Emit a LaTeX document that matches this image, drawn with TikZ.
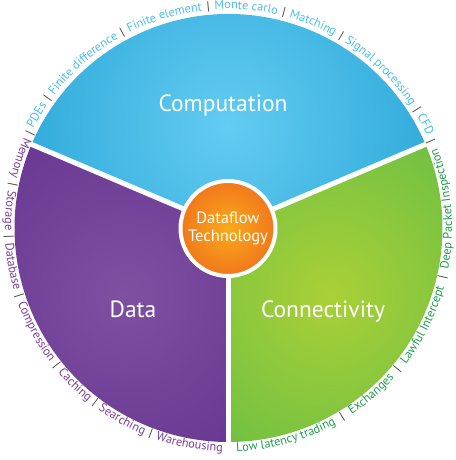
\documentclass[tikz,border=0pt]{standalone}
\usepackage{fontspec}
\setmainfont{PT Sans}
\usetikzlibrary{decorations.text}

\definecolor{compdark}{HTML}{1A9CD0}
\definecolor{complight}{HTML}{63CCF2}
\definecolor{datadark}{HTML}{5C2889}
\definecolor{datalight}{HTML}{7E50A1}
\definecolor{conndark}{HTML}{4BB649}
\definecolor{connlight}{HTML}{AAD037}
\definecolor{coredark}{HTML}{EA4A1E}
\definecolor{corelight}{HTML}{F9AA1A}
\definecolor{ringblue}{HTML}{48BEEA}
\definecolor{ringpurple}{HTML}{7A3E97}
\definecolor{ringgreen}{HTML}{1F9C4B}
\definecolor{ringsep}{HTML}{3C3C3C}

\newcommand\ringfont{\fontsize{12.3}{14}\selectfont}

\begin{document}
\begin{tikzpicture}[x=1pt, y=1pt,
    title/.style={text=white, font=\fontsize{23.5}{28}\selectfont, anchor=base, inner sep=0},
    gap/.style={white, line width=5},
    ring/.style={decorate, decoration={text along path, text align={fit to path stretching spaces}, text format delimiters={[}{]}, text={#1}}}
]
    \useasboundingbox (0,0) rectangle (455,460);
    \coordinate (c) at (228.5,232);

    % Computation sector
    \begin{scope}
        \clip (c) -- ++(23:214) arc[start angle=23, end angle=157, radius=214] -- cycle;
        \shade[inner color=complight, outer color=compdark] (228,335) circle (300);
    \end{scope}

    % Data sector
    \begin{scope}
        \clip (c) -- ++(157:214) arc[start angle=157, end angle=270, radius=214] -- cycle;
        \shade[inner color=datalight, outer color=datadark] (125,165) circle (300);
    \end{scope}

    % Connectivity sector
    \begin{scope}
        \clip (c) -- ++(-90:214) arc[start angle=-90, end angle=23, radius=214] -- cycle;
        \shade[inner color=connlight, outer color=conndark] (330,165) circle (300);
    \end{scope}

    % White gaps
    \foreach \a in {23,157,270}
        \draw[gap] (c) -- ++(\a:215);

    % Core
    \node[circle, draw=white, line width=4, minimum size=95, inner sep=0, align=center,
          text=white, font=\fontsize{16.5}{18.3}\selectfont,
          path picture={\shade[inner color=corelight, outer color=coredark]
              (path picture bounding box.center) circle (91);}]
        (core) at (228,231.5) {Dataflow\\Technology};

    % Titles
    \node[title] (comp) at (223,348) {Computation};
    \node[title] (data) at (133,142) {Data};
    \node[title] (conn) at (323,142) {Connectivity};

    % Ring of applications
    \path[ring={[\ringfont\color{ringblue}]PDEs [+\color{ringsep}]| [+\color{ringblue}]Finite{\ }difference [+\color{ringsep}]| [+\color{ringblue}]Finite{\ }element [+\color{ringsep}]| [+\color{ringblue}]Monte{\ }carlo [+\color{ringsep}]| [+\color{ringblue}]Matching [+\color{ringsep}]| [+\color{ringblue}]Signal{\ }processing [+\color{ringsep}]| [+\color{ringblue}]CFD}, shift={(c)}]
        (153:219) arc[start angle=153, end angle=25, radius=219];
    \path[ring={[\ringfont\color{ringsep}]| [+\color{ringpurple}]Memory [+\color{ringsep}]| [+\color{ringpurple}]Storage [+\color{ringsep}]| [+\color{ringpurple}]Database [+\color{ringsep}]| [+\color{ringpurple}]Compression [+\color{ringsep}]| [+\color{ringpurple}]Caching [+\color{ringsep}]| [+\color{ringpurple}]Searching [+\color{ringsep}]| [+\color{ringpurple}]Warehousing}, shift={(c)}]
        (154:223.5) arc[start angle=154, end angle=268.5, radius=223.5];
    \path[ring={[\ringfont\color{ringgreen}]Low{\ }latency{\ }trading [+\color{ringsep}]| [+\color{ringgreen}]Exchanges [+\color{ringsep}]| [+\color{ringgreen}]Lawful{\ }Intercept [+\color{ringsep}]| [+\color{ringgreen}]Deep{\ }Packet{\ }Inspection [+\color{ringsep}]|}, shift={(c)}]
        (-88:223.5) arc[start angle=-88, end angle=23.6, radius=223.5];
\end{tikzpicture}
\end{document}
